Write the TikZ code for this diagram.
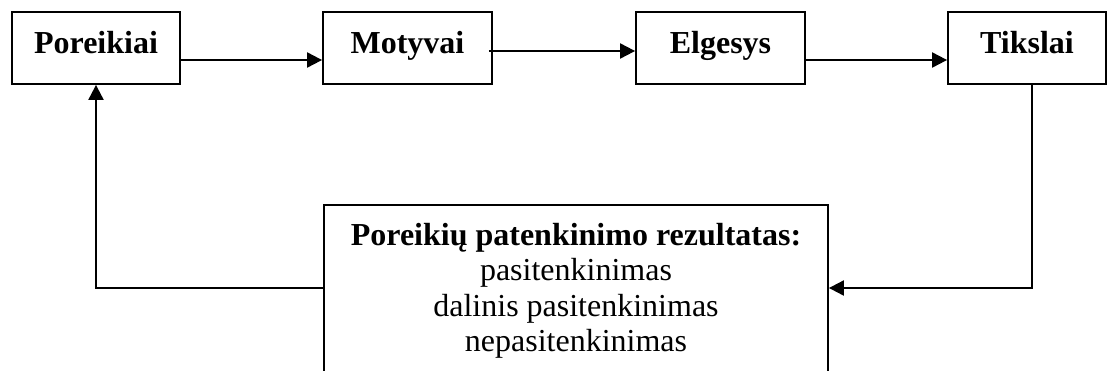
\documentclass[tikz,border=0pt]{standalone}
\usepackage{fontspec}
\setmainfont{Liberation Serif}
\usetikzlibrary{arrows.meta,calc}
\begin{document}
\begin{tikzpicture}[x=1pt,y=-1pt,
  topbox/.style={draw,line width=1.8pt,inner sep=0pt,minimum height=72pt,
    text height=21pt,text depth=11pt,font=\fontsize{32}{36}\selectfont\bfseries},
  conn/.style={line width=2pt},
  arr/.style={conn,-{Triangle[length=15pt,width=15pt]}},
]
\useasboundingbox (0,0) rectangle (1107,370);
\node[topbox,minimum width=168pt] (p) at (96,48) {Poreikiai};
\node[topbox,minimum width=169pt] (m) at (407.5,48) {Motyvai};
\node[topbox,minimum width=169pt] (e) at (720.5,48) {Elgesys};
\node[topbox,minimum width=158pt] (t) at (1027,48) {Tikslai};
\node[draw,line width=1.8pt,minimum width=504pt,minimum height=200pt,anchor=north,inner sep=0pt] (res) at (576,204) {};
\node[anchor=north,inner sep=0pt,align=center,font=\fontsize{32}{35.5}\selectfont] (restext) at (576,223)
  {\textbf{Poreikių patenkinimo rezultatas:}\\pasitenkinimas\\dalinis pasitenkinimas\\nepasitenkinimas};
\coordinate (lc) at (96,288);
\coordinate (rc) at (1032,288);
\draw[arr] ($(p.east)+(0,12)$) -- ($(m.west)+(0,12)$);
\draw[arr] ($(m.east)+(-4,3)$) -- ($(e.west)+(0,3)$);
\draw[arr] ($(e.east)+(0,12)$) -- ($(t.west)+(0,12)$);
\draw[arr] (t.south -| rc) -- (rc) -- (res.east |- rc);
\draw[arr] (res.west |- lc) -- (lc) -- (p.south -| lc);
\end{tikzpicture}
\end{document}
